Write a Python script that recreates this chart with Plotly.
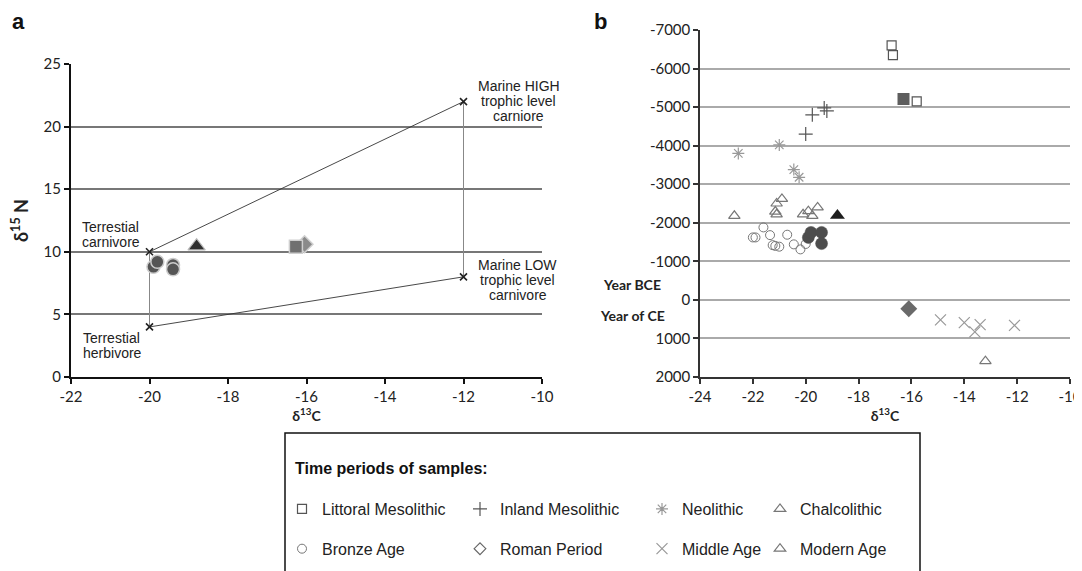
import plotly.graph_objects as go

# page body has an 8px margin; map reference pixels accordingly
OFF = 8
W, H = 1082 - OFF, 571 - OFF
def px_x(p): return (p - OFF) / W
def px_y(p): return 1 - (p - OFF) / H

# ---------------- Panel a data ----------------
ref_x = [-20, -20, -12, -12]
ref_y = [10, 4, 22, 8]
diag1_x = [-20, -12]; diag1_y = [10, 22]
diag2_x = [-20, -12]; diag2_y = [4, 8]
vert1_x = [-20, -20]; vert1_y = [4, 10]
vert2_x = [-12, -12]; vert2_y = [8, 22]

a_bronze_x = [-19.9, -19.4, -19.4, -19.8]
a_bronze_y = [8.8, 8.95, 8.6, 9.2]
a_chalco_x = [-18.8]; a_chalco_y = [10.45]
a_roman_x = [-16.05]; a_roman_y = [10.6]
a_littoral_x = [-16.27]; a_littoral_y = [10.4]

# ---------------- Panel b data ----------------
littoral_x = [-16.75, -16.7, -15.8]
littoral_y = [-6600, -6350, -5150]
inland_x = [-19.75, -20.0, -19.3, -19.2]
inland_y = [-4800, -4300, -4980, -4900]
neolithic_x = [-22.55, -21.0, -20.45, -20.25]
neolithic_y = [-3800, -4020, -3380, -3180]
chalco_x = [-22.7, -20.9, -21.1, -21.15, -21.1, -20.1, -19.9, -19.75, -19.55]
chalco_y = [-2180, -2620, -2500, -2290, -2220, -2220, -2300, -2180, -2400]
bronze_x = [-22.0, -21.9, -21.6, -21.35, -21.25, -21.15, -21.0, -20.7, -20.45, -20.2, -20.0, -19.9]
bronze_y = [-1620, -1620, -1880, -1680, -1420, -1400, -1380, -1690, -1440, -1310, -1450, -1620]
middle_x = [-14.9, -14.0, -13.6, -13.4, -12.1]
middle_y = [520, 590, 830, 640, 660]
modern_x = [-13.2]; modern_y = [1590]

b_bronze_x = [-19.9, -19.8, -19.4, -19.4]
b_bronze_y = [-1620, -1750, -1750, -1460]
b_chalco_x = [-18.8]; b_chalco_y = [-2190]
b_littoral_x = [-16.3]; b_littoral_y = [-5210]
b_roman_x = [-16.1]; b_roman_y = [230]

a_xticks = [-22, -20, -18, -16, -14, -12, -10]
a_yticks = [0, 5, 10, 15, 20, 25]
b_xticks = [-24, -22, -20, -18, -16, -14, -12, -10]
b_yticks = [-7000, -6000, -5000, -4000, -3000, -2000, -1000, 0, 1000, 2000]

fig = go.Figure()

# Panel a reference lines
fig.add_trace(go.Scatter(x=vert1_x, y=vert1_y, mode="lines", line=dict(color="#888", width=1),
                         xaxis="x", yaxis="y", showlegend=False, hoverinfo="skip"))
fig.add_trace(go.Scatter(x=vert2_x, y=vert2_y, mode="lines", line=dict(color="#888", width=1),
                         xaxis="x", yaxis="y", showlegend=False, hoverinfo="skip"))
fig.add_trace(go.Scatter(x=diag1_x, y=diag1_y, mode="lines", line=dict(color="#333", width=0.9),
                         xaxis="x", yaxis="y", showlegend=False, hoverinfo="skip"))
fig.add_trace(go.Scatter(x=diag2_x, y=diag2_y, mode="lines", line=dict(color="#333", width=0.9),
                         xaxis="x", yaxis="y", showlegend=False, hoverinfo="skip"))
fig.add_trace(go.Scatter(x=ref_x, y=ref_y, mode="markers",
                         marker=dict(symbol="x-thin-open", size=7, color="#222", line=dict(width=1.6, color="#222")),
                         xaxis="x", yaxis="y", showlegend=False))

# Panel a data
fig.add_trace(go.Scatter(x=a_roman_x, y=a_roman_y, mode="markers",
                         marker=dict(symbol="diamond", size=13, color="#8a8a8a", line=dict(width=1.5, color="#d0d0d0")),
                         xaxis="x", yaxis="y", showlegend=False))
fig.add_trace(go.Scatter(x=a_littoral_x, y=a_littoral_y, mode="markers",
                         marker=dict(symbol="square", size=13, color="#707070", line=dict(width=1.5, color="#cfcfcf")),
                         xaxis="x", yaxis="y", showlegend=False))
fig.add_trace(go.Scatter(x=a_chalco_x, y=a_chalco_y, mode="markers",
                         marker=dict(symbol="triangle-up", size=15, color="#303030", line=dict(width=1.2, color="#bbbbbb")),
                         xaxis="x", yaxis="y", showlegend=False))
fig.add_trace(go.Scatter(x=a_bronze_x, y=a_bronze_y, mode="markers",
                         marker=dict(symbol="circle", size=13, color="#555555", line=dict(width=1.5, color="#cccccc")),
                         xaxis="x", yaxis="y", showlegend=False))

# Panel b data (with legend entries)
def leg_trace(x, y, name, symbol, color, size, legend, group, lw=1.2):
    return go.Scatter(x=x, y=y, mode="markers", name=name, legend=legend, legendgroup=group,
                      marker=dict(symbol=symbol, size=size, color=color, line=dict(width=lw, color=color)),
                      xaxis="x2", yaxis="y2")

fig.add_trace(leg_trace(littoral_x, littoral_y, "Littoral Mesolithic", "square-open", "#555", 9, "legend", "g1"))
fig.add_trace(leg_trace(bronze_x, bronze_y, "Bronze Age", "circle-open", "#777", 9, "legend", "g2", 1))
fig.add_trace(leg_trace(inland_x, inland_y, "Inland Mesolithic", "cross-thin-open", "#555", 10, "legend2", "g3"))
fig.add_trace(go.Scatter(x=[None], y=[None], mode="markers", name="Roman Period", legend="legend2", legendgroup="g4",
                         marker=dict(symbol="diamond-open", size=9, color="#666", line=dict(width=1.2, color="#666")),
                         xaxis="x2", yaxis="y2"))
fig.add_trace(leg_trace(neolithic_x, neolithic_y, "Neolithic", "asterisk-open", "#999", 10, "legend3", "g5"))
fig.add_trace(leg_trace(middle_x, middle_y, "Middle Age", "x-thin-open", "#999", 11, "legend3", "g6"))
fig.add_trace(leg_trace(chalco_x, chalco_y, "Chalcolithic", "triangle-up-open", "#777", 10, "legend4", "g7"))
fig.add_trace(leg_trace(modern_x, modern_y, "Modern Age", "triangle-up-open", "#777", 10, "legend4", "g8"))

# Panel b filled points (this study)
fig.add_trace(go.Scatter(x=b_bronze_x, y=b_bronze_y, mode="markers",
                         marker=dict(symbol="circle", size=12, color="#4d4d4d", line=dict(width=0.5, color="#4d4d4d")),
                         xaxis="x2", yaxis="y2", showlegend=False))
fig.add_trace(go.Scatter(x=b_chalco_x, y=b_chalco_y, mode="markers",
                         marker=dict(symbol="triangle-up", size=13, color="#1e1e1e"),
                         xaxis="x2", yaxis="y2", showlegend=False))
fig.add_trace(go.Scatter(x=b_littoral_x, y=b_littoral_y, mode="markers",
                         marker=dict(symbol="square", size=12, color="#5e5e5e"),
                         xaxis="x2", yaxis="y2", showlegend=False))
fig.add_trace(go.Scatter(x=b_roman_x, y=b_roman_y, mode="markers",
                         marker=dict(symbol="diamond", size=13, color="#6a6a6a"),
                         xaxis="x2", yaxis="y2", showlegend=False))

tickfont = dict(family="Lato, Open Sans, sans-serif", size=15, color="#222")

legend_common = dict(orientation="v", bgcolor="rgba(0,0,0,0)", borderwidth=0,
                     font=dict(family="Liberation Sans, Arial, sans-serif", size=16, color="#222"),
                     traceorder="grouped", tracegroupgap=16, itemwidth=30,
                     xanchor="left", yanchor="top")
col_x = [282, 460, 642, 760]
leg_top = 492

fig.update_layout(
    width=W, height=H, margin=dict(l=0, r=0, t=0, b=0, autoexpand=False),
    paper_bgcolor="white", plot_bgcolor="white",
    showlegend=True,
    xaxis=dict(domain=[px_x(71), px_x(542)], anchor="y", range=[-22, -10], automargin=False,
               tickvals=a_xticks, ticktext=[str(v) for v in a_xticks],
               showgrid=False, zeroline=False, showline=True, linecolor="#111", linewidth=2,
               ticks="outside", ticklen=5, tickwidth=1.5, tickcolor="#111", tickfont=tickfont,
               title=dict(text="<b>δ<sup>13</sup>C</b>", font=dict(family="Lato, Open Sans, sans-serif", size=14, color="#222"), standoff=6)),
    yaxis=dict(domain=[px_y(377), px_y(64)], anchor="x", range=[0, 25], automargin=False,
               tickvals=a_yticks, ticktext=[str(v) for v in a_yticks],
               showgrid=True, gridcolor="#777", gridwidth=1.5, zeroline=False,
               showline=True, linecolor="#111", linewidth=2,
               ticks="outside", ticklen=5, tickwidth=1.5, tickcolor="#111", tickfont=tickfont,
               title=dict(text="<b>δ<sup>15</sup> N</b>", font=dict(family="Lato, Open Sans, sans-serif", size=18, color="#222"), standoff=12)),
    xaxis2=dict(domain=[px_x(700), px_x(1070)], anchor="y2", range=[-24, -10], automargin=False,
                tickvals=b_xticks, ticktext=[str(v) for v in b_xticks],
                showgrid=False, zeroline=False, showline=True, linecolor="#333", linewidth=1.5,
                ticks="outside", ticklen=5, tickwidth=1.5, tickcolor="#333", tickfont=tickfont,
                title=dict(text="<b>δ<sup>13</sup>C</b>", font=dict(family="Lato, Open Sans, sans-serif", size=14, color="#222"), standoff=6)),
    yaxis2=dict(domain=[px_y(377), px_y(30)], anchor="x2", range=[2000, -7000], automargin=False,
                tickvals=b_yticks, ticktext=[str(v) for v in b_yticks],
                showgrid=True, gridcolor="#aaa", gridwidth=1.5, zeroline=False,
                showline=True, linecolor="#333", linewidth=1.5,
                ticks="outside", ticklen=5, tickwidth=1.5, tickcolor="#333", tickfont=tickfont),
    legend=dict(legend_common, x=px_x(col_x[0]), y=px_y(leg_top)),
    legend2=dict(legend_common, x=px_x(col_x[1]), y=px_y(leg_top)),
    legend3=dict(legend_common, x=px_x(col_x[2]), y=px_y(leg_top)),
    legend4=dict(legend_common, x=px_x(col_x[3]), y=px_y(leg_top)),
)

# Legend box and title
fig.add_shape(type="rect", xref="paper", yref="paper", x0=px_x(285), x1=px_x(920), y0=-0.2, y1=px_y(433),
              line=dict(color="#111", width=1.5), fillcolor="rgba(0,0,0,0)", layer="below")
fig.add_annotation(xref="paper", yref="paper", x=px_x(293), y=px_y(468), xanchor="left", yanchor="middle",
                   text="<b>Time periods of samples:</b>", showarrow=False,
                   font=dict(family="Liberation Sans, Arial, sans-serif", size=16, color="#111"))

# Panel labels
fig.add_annotation(xref="paper", yref="paper", x=px_x(10), y=px_y(22), xanchor="left", yanchor="middle",
                   text="<b>a</b>", showarrow=False, font=dict(family="Liberation Sans, Arial, sans-serif", size=22, color="#111"))
fig.add_annotation(xref="paper", yref="paper", x=px_x(592), y=px_y(22), xanchor="left", yanchor="middle",
                   text="<b>b</b>", showarrow=False, font=dict(family="Liberation Sans, Arial, sans-serif", size=22, color="#111"))

# Panel a text labels (one annotation per line for tight line spacing)
lab_font = dict(family="Liberation Sans, Arial, sans-serif", size=14, color="#222")
LINE = 15
def label_block(x, y, lines, xshift, center_shift, xanchor):
    n = len(lines)
    for i, t in enumerate(lines):
        ys = center_shift + ((n - 1) / 2 - i) * LINE
        fig.add_annotation(xref="x", yref="y", x=x, y=y, xshift=xshift, yshift=ys, text=t,
                           showarrow=False, font=lab_font, xanchor=xanchor, yanchor="middle")

label_block(-12, 22, ["Marine HIGH", "trophic level", "carniore"], 55, 1, "center")
label_block(-12, 8, ["Marine LOW", "trophic level", "carnivore"], 54, -3, "center")
label_block(-20, 10, ["Terrestial", "carnivore"], -70, 17, "left")
label_block(-20, 4, ["Terrestial", "herbivore"], -69, -19, "left")

# Panel b labels
yr_font = dict(family="Lato, Open Sans, sans-serif", size=14, color="#222")
fig.add_annotation(xref="paper", yref="paper", x=px_x(663), y=px_y(285), xanchor="right", yanchor="middle",
                   text="<b>Year BCE</b>", showarrow=False, font=yr_font)
fig.add_annotation(xref="paper", yref="paper", x=px_x(667), y=px_y(315), xanchor="right", yanchor="middle",
                   text="<b>Year of CE</b>", showarrow=False, font=yr_font)

fig.write_html("out.html")
